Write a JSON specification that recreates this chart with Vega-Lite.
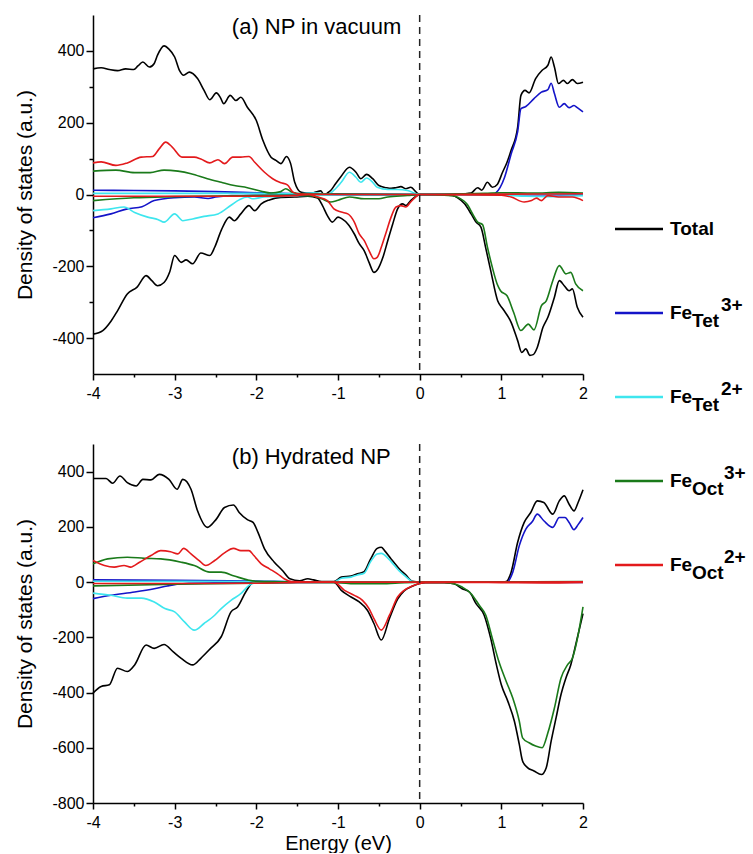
{
"$schema":"https://vega.github.io/schema/vega-lite/v6.json",
"padding":{"left":14,"top":14,"right":0,"bottom":0},
"background":"white",
"config":{"view":{"stroke":null},"font":"Liberation Sans",
"axis":{"domainColor":"black","domainWidth":1.5,"tickColor":"black","tickWidth":1.5,"labelColor":"black","labelFont":"Liberation Sans","labelFontSize":16,"titleFont":"Liberation Sans","titleFontSize":21,"titleFontWeight":"normal","titleColor":"black","grid":false,"labelFlush":false,"labelOverlap":false}},
"datasets":{
"a":[
{"series":"Total","spin":"up","E":-4.0,"dos":350},{"series":"Total","spin":"up","E":-3.9,"dos":353},{"series":"Total","spin":"up","E":-3.8,"dos":348},{"series":"Total","spin":"up","E":-3.7,"dos":345},{"series":"Total","spin":"up","E":-3.6,"dos":350},{"series":"Total","spin":"up","E":-3.5,"dos":348},{"series":"Total","spin":"up","E":-3.45,"dos":358},{"series":"Total","spin":"up","E":-3.39,"dos":369},{"series":"Total","spin":"up","E":-3.31,"dos":355},{"series":"Total","spin":"up","E":-3.25,"dos":365},{"series":"Total","spin":"up","E":-3.21,"dos":388},{"series":"Total","spin":"up","E":-3.13,"dos":414},{"series":"Total","spin":"up","E":-3.07,"dos":405},{"series":"Total","spin":"up","E":-3.0,"dos":383},{"series":"Total","spin":"up","E":-2.94,"dos":345},{"series":"Total","spin":"up","E":-2.89,"dos":332},{"series":"Total","spin":"up","E":-2.82,"dos":341},{"series":"Total","spin":"up","E":-2.72,"dos":323},{"series":"Total","spin":"up","E":-2.64,"dos":290},{"series":"Total","spin":"up","E":-2.57,"dos":264},{"series":"Total","spin":"up","E":-2.49,"dos":283},{"series":"Total","spin":"up","E":-2.44,"dos":270},{"series":"Total","spin":"up","E":-2.4,"dos":253},{"series":"Total","spin":"up","E":-2.32,"dos":276},{"series":"Total","spin":"up","E":-2.25,"dos":262},{"series":"Total","spin":"up","E":-2.19,"dos":271},{"series":"Total","spin":"up","E":-2.11,"dos":243},{"series":"Total","spin":"up","E":-2.0,"dos":206},{"series":"Total","spin":"up","E":-1.92,"dos":151},{"series":"Total","spin":"up","E":-1.82,"dos":104},{"series":"Total","spin":"up","E":-1.76,"dos":95},{"series":"Total","spin":"up","E":-1.7,"dos":86},{"series":"Total","spin":"up","E":-1.63,"dos":106},{"series":"Total","spin":"up","E":-1.58,"dos":86},{"series":"Total","spin":"up","E":-1.53,"dos":34},{"series":"Total","spin":"up","E":-1.45,"dos":6},{"series":"Total","spin":"up","E":-1.38,"dos":4},{"series":"Total","spin":"up","E":-1.3,"dos":5},{"series":"Total","spin":"up","E":-1.21,"dos":10},{"series":"Total","spin":"up","E":-1.17,"dos":-2},{"series":"Total","spin":"up","E":-1.13,"dos":4},{"series":"Total","spin":"up","E":-1.09,"dos":11},{"series":"Total","spin":"up","E":-1.03,"dos":30},{"series":"Total","spin":"up","E":-0.97,"dos":48},{"series":"Total","spin":"up","E":-0.86,"dos":76},{"series":"Total","spin":"up","E":-0.78,"dos":62},{"series":"Total","spin":"up","E":-0.72,"dos":44},{"series":"Total","spin":"up","E":-0.65,"dos":56},{"series":"Total","spin":"up","E":-0.575,"dos":44},{"series":"Total","spin":"up","E":-0.5,"dos":25},{"series":"Total","spin":"up","E":-0.41,"dos":19},{"series":"Total","spin":"up","E":-0.35,"dos":17},{"series":"Total","spin":"up","E":-0.29,"dos":19},{"series":"Total","spin":"up","E":-0.23,"dos":22},{"series":"Total","spin":"up","E":-0.17,"dos":16},{"series":"Total","spin":"up","E":-0.11,"dos":20},{"series":"Total","spin":"up","E":-0.03,"dos":4},{"series":"Total","spin":"up","E":0,"dos":0},{"series":"Total","spin":"up","E":0.3,"dos":0},{"series":"Total","spin":"up","E":0.55,"dos":2},{"series":"Total","spin":"up","E":0.63,"dos":4},{"series":"Total","spin":"up","E":0.71,"dos":19},{"series":"Total","spin":"up","E":0.76,"dos":12},{"series":"Total","spin":"up","E":0.83,"dos":34},{"series":"Total","spin":"up","E":0.89,"dos":20},{"series":"Total","spin":"up","E":0.95,"dos":28},{"series":"Total","spin":"up","E":1.015,"dos":62},{"series":"Total","spin":"up","E":1.07,"dos":90},{"series":"Total","spin":"up","E":1.12,"dos":123},{"series":"Total","spin":"up","E":1.2,"dos":188},{"series":"Total","spin":"up","E":1.24,"dos":276},{"series":"Total","spin":"up","E":1.29,"dos":290},{"series":"Total","spin":"up","E":1.34,"dos":283},{"series":"Total","spin":"up","E":1.42,"dos":323},{"series":"Total","spin":"up","E":1.5,"dos":346},{"series":"Total","spin":"up","E":1.57,"dos":360},{"series":"Total","spin":"up","E":1.61,"dos":383},{"series":"Total","spin":"up","E":1.65,"dos":355},{"series":"Total","spin":"up","E":1.7,"dos":309},{"series":"Total","spin":"up","E":1.76,"dos":318},{"series":"Total","spin":"up","E":1.81,"dos":309},{"series":"Total","spin":"up","E":1.87,"dos":320},{"series":"Total","spin":"up","E":1.93,"dos":309},{"series":"Total","spin":"up","E":2.0,"dos":313},
{"series":"Total","spin":"down","E":-4.0,"dos":-389},{"series":"Total","spin":"down","E":-3.88,"dos":-379},{"series":"Total","spin":"down","E":-3.78,"dos":-353},{"series":"Total","spin":"down","E":-3.7,"dos":-324},{"series":"Total","spin":"down","E":-3.58,"dos":-277},{"series":"Total","spin":"down","E":-3.46,"dos":-258},{"series":"Total","spin":"down","E":-3.35,"dos":-226},{"series":"Total","spin":"down","E":-3.28,"dos":-240},{"series":"Total","spin":"down","E":-3.21,"dos":-254},{"series":"Total","spin":"down","E":-3.13,"dos":-245},{"series":"Total","spin":"down","E":-3.06,"dos":-215},{"series":"Total","spin":"down","E":-3.0,"dos":-170},{"series":"Total","spin":"down","E":-2.92,"dos":-189},{"series":"Total","spin":"down","E":-2.86,"dos":-182},{"series":"Total","spin":"down","E":-2.78,"dos":-193},{"series":"Total","spin":"down","E":-2.68,"dos":-163},{"series":"Total","spin":"down","E":-2.57,"dos":-170},{"series":"Total","spin":"down","E":-2.51,"dos":-147},{"series":"Total","spin":"down","E":-2.43,"dos":-100},{"series":"Total","spin":"down","E":-2.33,"dos":-63},{"series":"Total","spin":"down","E":-2.27,"dos":-73},{"series":"Total","spin":"down","E":-2.19,"dos":-54},{"series":"Total","spin":"down","E":-2.09,"dos":-31},{"series":"Total","spin":"down","E":-2.02,"dos":-45},{"series":"Total","spin":"down","E":-1.94,"dos":-26},{"series":"Total","spin":"down","E":-1.84,"dos":-15},{"series":"Total","spin":"down","E":-1.7,"dos":-8},{"series":"Total","spin":"down","E":-1.53,"dos":-7},{"series":"Total","spin":"down","E":-1.37,"dos":-5},{"series":"Total","spin":"down","E":-1.25,"dos":-10},{"series":"Total","spin":"down","E":-1.19,"dos":-31},{"series":"Total","spin":"down","E":-1.13,"dos":-59},{"series":"Total","spin":"down","E":-1.07,"dos":-77},{"series":"Total","spin":"down","E":-1.0,"dos":-63},{"series":"Total","spin":"down","E":-0.95,"dos":-68},{"series":"Total","spin":"down","E":-0.88,"dos":-82},{"series":"Total","spin":"down","E":-0.8,"dos":-110},{"series":"Total","spin":"down","E":-0.74,"dos":-137},{"series":"Total","spin":"down","E":-0.68,"dos":-156},{"series":"Total","spin":"down","E":-0.62,"dos":-189},{"series":"Total","spin":"down","E":-0.56,"dos":-217},{"series":"Total","spin":"down","E":-0.51,"dos":-207},{"series":"Total","spin":"down","E":-0.45,"dos":-175},{"series":"Total","spin":"down","E":-0.39,"dos":-128},{"series":"Total","spin":"down","E":-0.33,"dos":-82},{"series":"Total","spin":"down","E":-0.27,"dos":-40},{"series":"Total","spin":"down","E":-0.21,"dos":-26},{"series":"Total","spin":"down","E":-0.17,"dos":-31},{"series":"Total","spin":"down","E":-0.11,"dos":-17},{"series":"Total","spin":"down","E":-0.03,"dos":-3},{"series":"Total","spin":"down","E":0,"dos":0},{"series":"Total","spin":"down","E":0.3,"dos":-1},{"series":"Total","spin":"down","E":0.4,"dos":-3},{"series":"Total","spin":"down","E":0.47,"dos":-10},{"series":"Total","spin":"down","E":0.55,"dos":-26},{"series":"Total","spin":"down","E":0.63,"dos":-54},{"series":"Total","spin":"down","E":0.69,"dos":-77},{"series":"Total","spin":"down","E":0.75,"dos":-91},{"series":"Total","spin":"down","E":0.81,"dos":-150},{"series":"Total","spin":"down","E":0.87,"dos":-212},{"series":"Total","spin":"down","E":0.955,"dos":-296},{"series":"Total","spin":"down","E":1.02,"dos":-319},{"series":"Total","spin":"down","E":1.12,"dos":-356},{"series":"Total","spin":"down","E":1.2,"dos":-407},{"series":"Total","spin":"down","E":1.25,"dos":-440},{"series":"Total","spin":"down","E":1.3,"dos":-430},{"series":"Total","spin":"down","E":1.35,"dos":-448},{"series":"Total","spin":"down","E":1.39,"dos":-446},{"series":"Total","spin":"down","E":1.44,"dos":-426},{"series":"Total","spin":"down","E":1.51,"dos":-370},{"series":"Total","spin":"down","E":1.57,"dos":-342},{"series":"Total","spin":"down","E":1.65,"dos":-286},{"series":"Total","spin":"down","E":1.71,"dos":-240},{"series":"Total","spin":"down","E":1.77,"dos":-254},{"series":"Total","spin":"down","E":1.83,"dos":-268},{"series":"Total","spin":"down","E":1.87,"dos":-263},{"series":"Total","spin":"down","E":1.93,"dos":-314},{"series":"Total","spin":"down","E":2.0,"dos":-342},
{"series":"FeTet3+","spin":"up","E":-4,"dos":12},{"series":"FeTet3+","spin":"up","E":-3.5,"dos":11},{"series":"FeTet3+","spin":"up","E":-3,"dos":10},{"series":"FeTet3+","spin":"up","E":-2.5,"dos":8},{"series":"FeTet3+","spin":"up","E":-2,"dos":5},{"series":"FeTet3+","spin":"up","E":-1.5,"dos":2},{"series":"FeTet3+","spin":"up","E":-1,"dos":1},{"series":"FeTet3+","spin":"up","E":0,"dos":0},{"series":"FeTet3+","spin":"up","E":0.9,"dos":1},{"series":"FeTet3+","spin":"up","E":0.93,"dos":4},{"series":"FeTet3+","spin":"up","E":1.04,"dos":48},{"series":"FeTet3+","spin":"up","E":1.12,"dos":113},{"series":"FeTet3+","spin":"up","E":1.2,"dos":175},{"series":"FeTet3+","spin":"up","E":1.24,"dos":239},{"series":"FeTet3+","spin":"up","E":1.3,"dos":245},{"series":"FeTet3+","spin":"up","E":1.4,"dos":267},{"series":"FeTet3+","spin":"up","E":1.49,"dos":285},{"series":"FeTet3+","spin":"up","E":1.57,"dos":292},{"series":"FeTet3+","spin":"up","E":1.61,"dos":310},{"series":"FeTet3+","spin":"up","E":1.65,"dos":281},{"series":"FeTet3+","spin":"up","E":1.71,"dos":243},{"series":"FeTet3+","spin":"up","E":1.77,"dos":253},{"series":"FeTet3+","spin":"up","E":1.83,"dos":242},{"series":"FeTet3+","spin":"up","E":1.89,"dos":248},{"series":"FeTet3+","spin":"up","E":1.93,"dos":242},{"series":"FeTet3+","spin":"up","E":2.0,"dos":230},
{"series":"FeTet3+","spin":"down","E":-4,"dos":-65},{"series":"FeTet3+","spin":"down","E":-3.78,"dos":-54},{"series":"FeTet3+","spin":"down","E":-3.58,"dos":-40},{"series":"FeTet3+","spin":"down","E":-3.4,"dos":-34},{"series":"FeTet3+","spin":"down","E":-3.25,"dos":-17},{"series":"FeTet3+","spin":"down","E":-3.0,"dos":-9},{"series":"FeTet3+","spin":"down","E":-2.76,"dos":-7},{"series":"FeTet3+","spin":"down","E":-2.59,"dos":-11},{"series":"FeTet3+","spin":"down","E":-2.5,"dos":-7},{"series":"FeTet3+","spin":"down","E":-2.3,"dos":-3},{"series":"FeTet3+","spin":"down","E":-2,"dos":-2},{"series":"FeTet3+","spin":"down","E":-1,"dos":-1},{"series":"FeTet3+","spin":"down","E":0,"dos":0},{"series":"FeTet3+","spin":"down","E":2,"dos":-1},
{"series":"FeTet2+","spin":"up","E":-4,"dos":3},{"series":"FeTet2+","spin":"up","E":-2,"dos":3},{"series":"FeTet2+","spin":"up","E":-1.5,"dos":2},{"series":"FeTet2+","spin":"up","E":-1.3,"dos":5},{"series":"FeTet2+","spin":"up","E":-1.2,"dos":3},{"series":"FeTet2+","spin":"up","E":-1.13,"dos":0},{"series":"FeTet2+","spin":"up","E":-1.05,"dos":12},{"series":"FeTet2+","spin":"up","E":-0.96,"dos":34},{"series":"FeTet2+","spin":"up","E":-0.86,"dos":62},{"series":"FeTet2+","spin":"up","E":-0.78,"dos":48},{"series":"FeTet2+","spin":"up","E":-0.72,"dos":34},{"series":"FeTet2+","spin":"up","E":-0.65,"dos":46},{"series":"FeTet2+","spin":"up","E":-0.575,"dos":34},{"series":"FeTet2+","spin":"up","E":-0.52,"dos":20},{"series":"FeTet2+","spin":"up","E":-0.39,"dos":14},{"series":"FeTet2+","spin":"up","E":-0.27,"dos":14},{"series":"FeTet2+","spin":"up","E":-0.15,"dos":11},{"series":"FeTet2+","spin":"up","E":-0.05,"dos":3},{"series":"FeTet2+","spin":"up","E":0,"dos":0},{"series":"FeTet2+","spin":"up","E":1,"dos":1},{"series":"FeTet2+","spin":"up","E":2,"dos":2},
{"series":"FeTet2+","spin":"down","E":-4,"dos":-45},{"series":"FeTet2+","spin":"down","E":-3.78,"dos":-40},{"series":"FeTet2+","spin":"down","E":-3.62,"dos":-35},{"series":"FeTet2+","spin":"down","E":-3.49,"dos":-50},{"series":"FeTet2+","spin":"down","E":-3.33,"dos":-63},{"series":"FeTet2+","spin":"down","E":-3.2,"dos":-70},{"series":"FeTet2+","spin":"down","E":-3.13,"dos":-77},{"series":"FeTet2+","spin":"down","E":-3.0,"dos":-54},{"series":"FeTet2+","spin":"down","E":-2.9,"dos":-73},{"series":"FeTet2+","spin":"down","E":-2.78,"dos":-68},{"series":"FeTet2+","spin":"down","E":-2.64,"dos":-61},{"series":"FeTet2+","spin":"down","E":-2.47,"dos":-54},{"series":"FeTet2+","spin":"down","E":-2.31,"dos":-30},{"series":"FeTet2+","spin":"down","E":-2.21,"dos":-15},{"series":"FeTet2+","spin":"down","E":-2.11,"dos":-7},{"series":"FeTet2+","spin":"down","E":-2.05,"dos":-12},{"series":"FeTet2+","spin":"down","E":-1.9,"dos":-7},{"series":"FeTet2+","spin":"down","E":-1.77,"dos":-6},{"series":"FeTet2+","spin":"down","E":-1.5,"dos":-3},{"series":"FeTet2+","spin":"down","E":-1,"dos":-1},{"series":"FeTet2+","spin":"down","E":0,"dos":0},{"series":"FeTet2+","spin":"down","E":1.0,"dos":-1},{"series":"FeTet2+","spin":"down","E":1.3,"dos":-5},{"series":"FeTet2+","spin":"down","E":1.6,"dos":-6},{"series":"FeTet2+","spin":"down","E":1.9,"dos":-4},{"series":"FeTet2+","spin":"down","E":2.0,"dos":-3},
{"series":"FeOct3+","spin":"up","E":-4,"dos":65},{"series":"FeOct3+","spin":"up","E":-3.72,"dos":68},{"series":"FeOct3+","spin":"up","E":-3.49,"dos":61},{"series":"FeOct3+","spin":"up","E":-3.3,"dos":61},{"series":"FeOct3+","spin":"up","E":-3.13,"dos":68},{"series":"FeOct3+","spin":"up","E":-2.96,"dos":65},{"series":"FeOct3+","spin":"up","E":-2.8,"dos":58},{"series":"FeOct3+","spin":"up","E":-2.6,"dos":44},{"series":"FeOct3+","spin":"up","E":-2.43,"dos":34},{"series":"FeOct3+","spin":"up","E":-2.27,"dos":25},{"series":"FeOct3+","spin":"up","E":-2.11,"dos":19},{"series":"FeOct3+","spin":"up","E":-1.94,"dos":9},{"series":"FeOct3+","spin":"up","E":-1.82,"dos":4},{"series":"FeOct3+","spin":"up","E":-1.7,"dos":8},{"series":"FeOct3+","spin":"up","E":-1.64,"dos":16},{"series":"FeOct3+","spin":"up","E":-1.56,"dos":6},{"series":"FeOct3+","spin":"up","E":-1.45,"dos":2},{"series":"FeOct3+","spin":"up","E":-1,"dos":1},{"series":"FeOct3+","spin":"up","E":0,"dos":0},{"series":"FeOct3+","spin":"up","E":0.8,"dos":3},{"series":"FeOct3+","spin":"up","E":1.0,"dos":5},{"series":"FeOct3+","spin":"up","E":1.4,"dos":4},{"series":"FeOct3+","spin":"up","E":1.7,"dos":6},{"series":"FeOct3+","spin":"up","E":2.0,"dos":4},
{"series":"FeOct3+","spin":"down","E":-4,"dos":-17},{"series":"FeOct3+","spin":"down","E":-3.5,"dos":-9},{"series":"FeOct3+","spin":"down","E":-3.0,"dos":-6},{"series":"FeOct3+","spin":"down","E":-2.5,"dos":-4},{"series":"FeOct3+","spin":"down","E":-2,"dos":-3},{"series":"FeOct3+","spin":"down","E":-1.5,"dos":-2},{"series":"FeOct3+","spin":"down","E":-1.33,"dos":-3},{"series":"FeOct3+","spin":"down","E":-1.2,"dos":-12},{"series":"FeOct3+","spin":"down","E":-1.09,"dos":-21},{"series":"FeOct3+","spin":"down","E":-1.0,"dos":-16},{"series":"FeOct3+","spin":"down","E":-0.86,"dos":-7},{"series":"FeOct3+","spin":"down","E":-0.68,"dos":-12},{"series":"FeOct3+","spin":"down","E":-0.5,"dos":-12},{"series":"FeOct3+","spin":"down","E":-0.39,"dos":-7},{"series":"FeOct3+","spin":"down","E":-0.15,"dos":-3},{"series":"FeOct3+","spin":"down","E":0,"dos":0},{"series":"FeOct3+","spin":"down","E":0.4,"dos":-3},{"series":"FeOct3+","spin":"down","E":0.47,"dos":-8},{"series":"FeOct3+","spin":"down","E":0.59,"dos":-30},{"series":"FeOct3+","spin":"down","E":0.65,"dos":-55},{"series":"FeOct3+","spin":"down","E":0.71,"dos":-77},{"series":"FeOct3+","spin":"down","E":0.77,"dos":-84},{"series":"FeOct3+","spin":"down","E":0.83,"dos":-147},{"series":"FeOct3+","spin":"down","E":0.89,"dos":-203},{"series":"FeOct3+","spin":"down","E":0.95,"dos":-250},{"series":"FeOct3+","spin":"down","E":0.99,"dos":-268},{"series":"FeOct3+","spin":"down","E":1.07,"dos":-282},{"series":"FeOct3+","spin":"down","E":1.15,"dos":-328},{"series":"FeOct3+","spin":"down","E":1.24,"dos":-379},{"series":"FeOct3+","spin":"down","E":1.33,"dos":-361},{"series":"FeOct3+","spin":"down","E":1.4,"dos":-377},{"series":"FeOct3+","spin":"down","E":1.49,"dos":-310},{"series":"FeOct3+","spin":"down","E":1.55,"dos":-296},{"series":"FeOct3+","spin":"down","E":1.63,"dos":-240},{"series":"FeOct3+","spin":"down","E":1.71,"dos":-198},{"series":"FeOct3+","spin":"down","E":1.79,"dos":-221},{"series":"FeOct3+","spin":"down","E":1.85,"dos":-217},{"series":"FeOct3+","spin":"down","E":1.91,"dos":-249},{"series":"FeOct3+","spin":"down","E":2.0,"dos":-268},
{"series":"FeOct2+","spin":"up","E":-4,"dos":88},{"series":"FeOct2+","spin":"up","E":-3.9,"dos":91},{"series":"FeOct2+","spin":"up","E":-3.72,"dos":81},{"series":"FeOct2+","spin":"up","E":-3.58,"dos":88},{"series":"FeOct2+","spin":"up","E":-3.41,"dos":104},{"series":"FeOct2+","spin":"up","E":-3.27,"dos":106},{"series":"FeOct2+","spin":"up","E":-3.19,"dos":127},{"series":"FeOct2+","spin":"up","E":-3.11,"dos":146},{"series":"FeOct2+","spin":"up","E":-3.03,"dos":132},{"series":"FeOct2+","spin":"up","E":-2.91,"dos":104},{"series":"FeOct2+","spin":"up","E":-2.76,"dos":104},{"series":"FeOct2+","spin":"up","E":-2.68,"dos":99},{"series":"FeOct2+","spin":"up","E":-2.57,"dos":88},{"series":"FeOct2+","spin":"up","E":-2.47,"dos":97},{"series":"FeOct2+","spin":"up","E":-2.39,"dos":86},{"series":"FeOct2+","spin":"up","E":-2.29,"dos":104},{"series":"FeOct2+","spin":"up","E":-2.19,"dos":104},{"series":"FeOct2+","spin":"up","E":-2.09,"dos":106},{"series":"FeOct2+","spin":"up","E":-2.02,"dos":90},{"series":"FeOct2+","spin":"up","E":-1.9,"dos":62},{"series":"FeOct2+","spin":"up","E":-1.8,"dos":44},{"series":"FeOct2+","spin":"up","E":-1.7,"dos":33},{"series":"FeOct2+","spin":"up","E":-1.62,"dos":27},{"series":"FeOct2+","spin":"up","E":-1.55,"dos":6},{"series":"FeOct2+","spin":"up","E":-1.46,"dos":1},{"series":"FeOct2+","spin":"up","E":-1,"dos":0},{"series":"FeOct2+","spin":"up","E":0,"dos":0},{"series":"FeOct2+","spin":"up","E":2,"dos":2},
{"series":"FeOct2+","spin":"down","E":-4,"dos":-5},{"series":"FeOct2+","spin":"down","E":-3,"dos":-5},{"series":"FeOct2+","spin":"down","E":-2,"dos":-5},{"series":"FeOct2+","spin":"down","E":-1.5,"dos":-3},{"series":"FeOct2+","spin":"down","E":-1.36,"dos":0},{"series":"FeOct2+","spin":"down","E":-1.25,"dos":-7},{"series":"FeOct2+","spin":"down","E":-1.13,"dos":-17},{"series":"FeOct2+","spin":"down","E":-1.05,"dos":-40},{"series":"FeOct2+","spin":"down","E":-0.96,"dos":-49},{"series":"FeOct2+","spin":"down","E":-0.88,"dos":-54},{"series":"FeOct2+","spin":"down","E":-0.8,"dos":-77},{"series":"FeOct2+","spin":"down","E":-0.74,"dos":-110},{"series":"FeOct2+","spin":"down","E":-0.68,"dos":-128},{"series":"FeOct2+","spin":"down","E":-0.62,"dos":-156},{"series":"FeOct2+","spin":"down","E":-0.56,"dos":-179},{"series":"FeOct2+","spin":"down","E":-0.52,"dos":-175},{"series":"FeOct2+","spin":"down","E":-0.47,"dos":-147},{"series":"FeOct2+","spin":"down","E":-0.41,"dos":-105},{"series":"FeOct2+","spin":"down","E":-0.35,"dos":-63},{"series":"FeOct2+","spin":"down","E":-0.29,"dos":-35},{"series":"FeOct2+","spin":"down","E":-0.23,"dos":-31},{"series":"FeOct2+","spin":"down","E":-0.17,"dos":-35},{"series":"FeOct2+","spin":"down","E":-0.11,"dos":-21},{"series":"FeOct2+","spin":"down","E":-0.05,"dos":-7},{"series":"FeOct2+","spin":"down","E":0,"dos":0},{"series":"FeOct2+","spin":"down","E":1.0,"dos":-2},{"series":"FeOct2+","spin":"down","E":1.12,"dos":-7},{"series":"FeOct2+","spin":"down","E":1.28,"dos":-21},{"series":"FeOct2+","spin":"down","E":1.37,"dos":-17},{"series":"FeOct2+","spin":"down","E":1.43,"dos":-10},{"series":"FeOct2+","spin":"down","E":1.49,"dos":-17},{"series":"FeOct2+","spin":"down","E":1.57,"dos":-3},{"series":"FeOct2+","spin":"down","E":1.7,"dos":-7},{"series":"FeOct2+","spin":"down","E":1.87,"dos":-7},{"series":"FeOct2+","spin":"down","E":2.0,"dos":-17}
],
"b":[
{"series":"Total","spin":"up","E":-4.0,"dos":375},{"series":"Total","spin":"up","E":-3.84,"dos":375},{"series":"Total","spin":"up","E":-3.76,"dos":358},{"series":"Total","spin":"up","E":-3.67,"dos":384},{"series":"Total","spin":"up","E":-3.58,"dos":360},{"series":"Total","spin":"up","E":-3.47,"dos":348},{"series":"Total","spin":"up","E":-3.39,"dos":372},{"series":"Total","spin":"up","E":-3.29,"dos":370},{"series":"Total","spin":"up","E":-3.19,"dos":390},{"series":"Total","spin":"up","E":-3.07,"dos":372},{"series":"Total","spin":"up","E":-2.97,"dos":336},{"series":"Total","spin":"up","E":-2.9,"dos":372},{"series":"Total","spin":"up","E":-2.8,"dos":336},{"series":"Total","spin":"up","E":-2.72,"dos":258},{"series":"Total","spin":"up","E":-2.6,"dos":198},{"series":"Total","spin":"up","E":-2.49,"dos":228},{"series":"Total","spin":"up","E":-2.39,"dos":270},{"series":"Total","spin":"up","E":-2.28,"dos":279},{"series":"Total","spin":"up","E":-2.21,"dos":252},{"series":"Total","spin":"up","E":-2.11,"dos":226},{"series":"Total","spin":"up","E":-2.04,"dos":216},{"series":"Total","spin":"up","E":-1.98,"dos":180},{"series":"Total","spin":"up","E":-1.9,"dos":120},{"series":"Total","spin":"up","E":-1.78,"dos":72},{"series":"Total","spin":"up","E":-1.68,"dos":42},{"series":"Total","spin":"up","E":-1.59,"dos":12},{"series":"Total","spin":"up","E":-1.47,"dos":5},{"series":"Total","spin":"up","E":-1.37,"dos":12},{"series":"Total","spin":"up","E":-1.3,"dos":8},{"series":"Total","spin":"up","E":-1.2,"dos":2},{"series":"Total","spin":"up","E":-1.05,"dos":2},{"series":"Total","spin":"up","E":-0.96,"dos":18},{"series":"Total","spin":"up","E":-0.84,"dos":22},{"series":"Total","spin":"up","E":-0.76,"dos":30},{"series":"Total","spin":"up","E":-0.68,"dos":38},{"series":"Total","spin":"up","E":-0.6,"dos":84},{"series":"Total","spin":"up","E":-0.52,"dos":122},{"series":"Total","spin":"up","E":-0.47,"dos":126},{"series":"Total","spin":"up","E":-0.43,"dos":114},{"series":"Total","spin":"up","E":-0.35,"dos":84},{"series":"Total","spin":"up","E":-0.25,"dos":48},{"series":"Total","spin":"up","E":-0.17,"dos":26},{"series":"Total","spin":"up","E":-0.09,"dos":3},{"series":"Total","spin":"up","E":0,"dos":0},{"series":"Total","spin":"up","E":1.0,"dos":0},{"series":"Total","spin":"up","E":1.06,"dos":2},{"series":"Total","spin":"up","E":1.12,"dos":36},{"series":"Total","spin":"up","E":1.2,"dos":144},{"series":"Total","spin":"up","E":1.28,"dos":216},{"series":"Total","spin":"up","E":1.36,"dos":252},{"series":"Total","spin":"up","E":1.44,"dos":294},{"series":"Total","spin":"up","E":1.52,"dos":288},{"series":"Total","spin":"up","E":1.63,"dos":246},{"series":"Total","spin":"up","E":1.71,"dos":294},{"series":"Total","spin":"up","E":1.77,"dos":312},{"series":"Total","spin":"up","E":1.83,"dos":282},{"series":"Total","spin":"up","E":1.89,"dos":258},{"series":"Total","spin":"up","E":1.94,"dos":288},{"series":"Total","spin":"up","E":2.0,"dos":334},
{"series":"Total","spin":"down","E":-4.0,"dos":-402},{"series":"Total","spin":"down","E":-3.9,"dos":-378},{"series":"Total","spin":"down","E":-3.8,"dos":-372},{"series":"Total","spin":"down","E":-3.7,"dos":-312},{"series":"Total","spin":"down","E":-3.58,"dos":-324},{"series":"Total","spin":"down","E":-3.49,"dos":-300},{"series":"Total","spin":"down","E":-3.35,"dos":-228},{"series":"Total","spin":"down","E":-3.25,"dos":-240},{"series":"Total","spin":"down","E":-3.13,"dos":-226},{"series":"Total","spin":"down","E":-3.02,"dos":-252},{"series":"Total","spin":"down","E":-2.92,"dos":-276},{"series":"Total","spin":"down","E":-2.78,"dos":-300},{"series":"Total","spin":"down","E":-2.68,"dos":-276},{"series":"Total","spin":"down","E":-2.56,"dos":-240},{"series":"Total","spin":"down","E":-2.43,"dos":-198},{"series":"Total","spin":"down","E":-2.31,"dos":-108},{"series":"Total","spin":"down","E":-2.23,"dos":-90},{"series":"Total","spin":"down","E":-2.13,"dos":-36},{"series":"Total","spin":"down","E":-2.04,"dos":-2},{"series":"Total","spin":"down","E":-1.5,"dos":0},{"series":"Total","spin":"down","E":-1.05,"dos":0},{"series":"Total","spin":"down","E":-0.96,"dos":-30},{"series":"Total","spin":"down","E":-0.84,"dos":-54},{"series":"Total","spin":"down","E":-0.74,"dos":-72},{"series":"Total","spin":"down","E":-0.64,"dos":-102},{"series":"Total","spin":"down","E":-0.56,"dos":-150},{"series":"Total","spin":"down","E":-0.47,"dos":-210},{"series":"Total","spin":"down","E":-0.37,"dos":-132},{"series":"Total","spin":"down","E":-0.27,"dos":-62},{"series":"Total","spin":"down","E":-0.19,"dos":-32},{"series":"Total","spin":"down","E":-0.09,"dos":-15},{"series":"Total","spin":"down","E":-0.01,"dos":-6},{"series":"Total","spin":"down","E":0.07,"dos":-2},{"series":"Total","spin":"down","E":0.3,"dos":-2},{"series":"Total","spin":"down","E":0.42,"dos":-6},{"series":"Total","spin":"down","E":0.52,"dos":-24},{"series":"Total","spin":"down","E":0.61,"dos":-36},{"series":"Total","spin":"down","E":0.69,"dos":-78},{"series":"Total","spin":"down","E":0.79,"dos":-120},{"series":"Total","spin":"down","E":0.87,"dos":-204},{"series":"Total","spin":"down","E":0.94,"dos":-300},{"series":"Total","spin":"down","E":1.0,"dos":-372},{"series":"Total","spin":"down","E":1.08,"dos":-432},{"series":"Total","spin":"down","E":1.16,"dos":-504},{"series":"Total","spin":"down","E":1.22,"dos":-588},{"series":"Total","spin":"down","E":1.26,"dos":-648},{"series":"Total","spin":"down","E":1.32,"dos":-672},{"series":"Total","spin":"down","E":1.4,"dos":-684},{"series":"Total","spin":"down","E":1.49,"dos":-697},{"series":"Total","spin":"down","E":1.55,"dos":-672},{"series":"Total","spin":"down","E":1.61,"dos":-576},{"series":"Total","spin":"down","E":1.67,"dos":-492},{"series":"Total","spin":"down","E":1.73,"dos":-408},{"series":"Total","spin":"down","E":1.79,"dos":-348},{"series":"Total","spin":"down","E":1.85,"dos":-300},{"series":"Total","spin":"down","E":1.91,"dos":-228},{"series":"Total","spin":"down","E":2.0,"dos":-114},
{"series":"FeTet3+","spin":"up","E":-4,"dos":8},{"series":"FeTet3+","spin":"up","E":-3,"dos":6},{"series":"FeTet3+","spin":"up","E":-2,"dos":4},{"series":"FeTet3+","spin":"up","E":-1.5,"dos":1},{"series":"FeTet3+","spin":"up","E":0,"dos":0},{"series":"FeTet3+","spin":"up","E":1.07,"dos":0},{"series":"FeTet3+","spin":"up","E":1.14,"dos":36},{"series":"FeTet3+","spin":"up","E":1.22,"dos":132},{"series":"FeTet3+","spin":"up","E":1.3,"dos":192},{"series":"FeTet3+","spin":"up","E":1.38,"dos":219},{"series":"FeTet3+","spin":"up","E":1.44,"dos":246},{"series":"FeTet3+","spin":"up","E":1.52,"dos":222},{"series":"FeTet3+","spin":"up","E":1.63,"dos":198},{"series":"FeTet3+","spin":"up","E":1.71,"dos":234},{"series":"FeTet3+","spin":"up","E":1.78,"dos":234},{"series":"FeTet3+","spin":"up","E":1.83,"dos":216},{"series":"FeTet3+","spin":"up","E":1.89,"dos":190},{"series":"FeTet3+","spin":"up","E":1.94,"dos":208},{"series":"FeTet3+","spin":"up","E":2.0,"dos":234},
{"series":"FeTet3+","spin":"down","E":-4,"dos":-60},{"series":"FeTet3+","spin":"down","E":-3.78,"dos":-48},{"series":"FeTet3+","spin":"down","E":-3.49,"dos":-36},{"series":"FeTet3+","spin":"down","E":-3.25,"dos":-24},{"series":"FeTet3+","spin":"down","E":-3.09,"dos":-14},{"series":"FeTet3+","spin":"down","E":-2.9,"dos":-6},{"series":"FeTet3+","spin":"down","E":-2.5,"dos":-3},{"series":"FeTet3+","spin":"down","E":-2,"dos":-2},{"series":"FeTet3+","spin":"down","E":0,"dos":0},{"series":"FeTet3+","spin":"down","E":2,"dos":-1},
{"series":"FeTet2+","spin":"up","E":-4,"dos":3},{"series":"FeTet2+","spin":"up","E":-2,"dos":2},{"series":"FeTet2+","spin":"up","E":-1.5,"dos":1},{"series":"FeTet2+","spin":"up","E":-1.05,"dos":0},{"series":"FeTet2+","spin":"up","E":-0.96,"dos":14},{"series":"FeTet2+","spin":"up","E":-0.84,"dos":18},{"series":"FeTet2+","spin":"up","E":-0.76,"dos":26},{"series":"FeTet2+","spin":"up","E":-0.68,"dos":32},{"series":"FeTet2+","spin":"up","E":-0.6,"dos":74},{"series":"FeTet2+","spin":"up","E":-0.52,"dos":102},{"series":"FeTet2+","spin":"up","E":-0.47,"dos":104},{"series":"FeTet2+","spin":"up","E":-0.43,"dos":98},{"series":"FeTet2+","spin":"up","E":-0.35,"dos":74},{"series":"FeTet2+","spin":"up","E":-0.25,"dos":40},{"series":"FeTet2+","spin":"up","E":-0.17,"dos":20},{"series":"FeTet2+","spin":"up","E":-0.09,"dos":2},{"series":"FeTet2+","spin":"up","E":0,"dos":0},{"series":"FeTet2+","spin":"up","E":2,"dos":0},
{"series":"FeTet2+","spin":"down","E":-4,"dos":-40},{"series":"FeTet2+","spin":"down","E":-3.78,"dos":-48},{"series":"FeTet2+","spin":"down","E":-3.58,"dos":-58},{"series":"FeTet2+","spin":"down","E":-3.41,"dos":-58},{"series":"FeTet2+","spin":"down","E":-3.25,"dos":-72},{"series":"FeTet2+","spin":"down","E":-3.12,"dos":-96},{"series":"FeTet2+","spin":"down","E":-3.0,"dos":-108},{"series":"FeTet2+","spin":"down","E":-2.88,"dos":-144},{"series":"FeTet2+","spin":"down","E":-2.76,"dos":-174},{"series":"FeTet2+","spin":"down","E":-2.64,"dos":-150},{"series":"FeTet2+","spin":"down","E":-2.51,"dos":-120},{"series":"FeTet2+","spin":"down","E":-2.43,"dos":-96},{"series":"FeTet2+","spin":"down","E":-2.31,"dos":-66},{"series":"FeTet2+","spin":"down","E":-2.19,"dos":-42},{"series":"FeTet2+","spin":"down","E":-2.09,"dos":-12},{"series":"FeTet2+","spin":"down","E":-2.02,"dos":-2},{"series":"FeTet2+","spin":"down","E":-1.5,"dos":0},{"series":"FeTet2+","spin":"down","E":0,"dos":0},{"series":"FeTet2+","spin":"down","E":2,"dos":0},
{"series":"FeOct3+","spin":"up","E":-4,"dos":66},{"series":"FeOct3+","spin":"up","E":-3.82,"dos":84},{"series":"FeOct3+","spin":"up","E":-3.58,"dos":90},{"series":"FeOct3+","spin":"up","E":-3.37,"dos":86},{"series":"FeOct3+","spin":"up","E":-3.17,"dos":84},{"series":"FeOct3+","spin":"up","E":-2.92,"dos":72},{"series":"FeOct3+","spin":"up","E":-2.76,"dos":60},{"series":"FeOct3+","spin":"up","E":-2.57,"dos":36},{"series":"FeOct3+","spin":"up","E":-2.43,"dos":36},{"series":"FeOct3+","spin":"up","E":-2.27,"dos":22},{"series":"FeOct3+","spin":"up","E":-2.11,"dos":8},{"series":"FeOct3+","spin":"up","E":-2.0,"dos":3},{"series":"FeOct3+","spin":"up","E":-1.5,"dos":1},{"series":"FeOct3+","spin":"up","E":0,"dos":0},{"series":"FeOct3+","spin":"up","E":2,"dos":2},
{"series":"FeOct3+","spin":"down","E":-4,"dos":-14},{"series":"FeOct3+","spin":"down","E":-3,"dos":-8},{"series":"FeOct3+","spin":"down","E":-2,"dos":-4},{"series":"FeOct3+","spin":"down","E":-1.5,"dos":-1},{"series":"FeOct3+","spin":"down","E":-1.0,"dos":-2},{"series":"FeOct3+","spin":"down","E":-0.8,"dos":-6},{"series":"FeOct3+","spin":"down","E":-0.5,"dos":-6},{"series":"FeOct3+","spin":"down","E":-0.3,"dos":-4},{"series":"FeOct3+","spin":"down","E":0,"dos":0},{"series":"FeOct3+","spin":"down","E":0.3,"dos":-1},{"series":"FeOct3+","spin":"down","E":0.42,"dos":-6},{"series":"FeOct3+","spin":"down","E":0.52,"dos":-18},{"series":"FeOct3+","spin":"down","E":0.63,"dos":-42},{"series":"FeOct3+","spin":"down","E":0.73,"dos":-84},{"series":"FeOct3+","spin":"down","E":0.81,"dos":-120},{"series":"FeOct3+","spin":"down","E":0.89,"dos":-204},{"series":"FeOct3+","spin":"down","E":0.97,"dos":-288},{"series":"FeOct3+","spin":"down","E":1.06,"dos":-360},{"series":"FeOct3+","spin":"down","E":1.14,"dos":-420},{"series":"FeOct3+","spin":"down","E":1.22,"dos":-504},{"series":"FeOct3+","spin":"down","E":1.26,"dos":-564},{"series":"FeOct3+","spin":"down","E":1.34,"dos":-582},{"series":"FeOct3+","spin":"down","E":1.42,"dos":-594},{"series":"FeOct3+","spin":"down","E":1.5,"dos":-600},{"series":"FeOct3+","spin":"down","E":1.57,"dos":-546},{"series":"FeOct3+","spin":"down","E":1.65,"dos":-456},{"series":"FeOct3+","spin":"down","E":1.73,"dos":-348},{"series":"FeOct3+","spin":"down","E":1.81,"dos":-300},{"series":"FeOct3+","spin":"down","E":1.87,"dos":-276},{"series":"FeOct3+","spin":"down","E":1.94,"dos":-192},{"series":"FeOct3+","spin":"down","E":2.0,"dos":-90},
{"series":"FeOct2+","spin":"up","E":-4,"dos":78},{"series":"FeOct2+","spin":"up","E":-3.86,"dos":60},{"series":"FeOct2+","spin":"up","E":-3.74,"dos":54},{"series":"FeOct2+","spin":"up","E":-3.62,"dos":60},{"series":"FeOct2+","spin":"up","E":-3.54,"dos":54},{"series":"FeOct2+","spin":"up","E":-3.43,"dos":72},{"series":"FeOct2+","spin":"up","E":-3.29,"dos":96},{"series":"FeOct2+","spin":"up","E":-3.17,"dos":114},{"series":"FeOct2+","spin":"up","E":-3.05,"dos":110},{"series":"FeOct2+","spin":"up","E":-2.96,"dos":102},{"series":"FeOct2+","spin":"up","E":-2.89,"dos":122},{"series":"FeOct2+","spin":"up","E":-2.8,"dos":102},{"series":"FeOct2+","spin":"up","E":-2.7,"dos":78},{"series":"FeOct2+","spin":"up","E":-2.62,"dos":60},{"series":"FeOct2+","spin":"up","E":-2.51,"dos":78},{"series":"FeOct2+","spin":"up","E":-2.39,"dos":106},{"series":"FeOct2+","spin":"up","E":-2.28,"dos":122},{"series":"FeOct2+","spin":"up","E":-2.19,"dos":114},{"series":"FeOct2+","spin":"up","E":-2.09,"dos":114},{"series":"FeOct2+","spin":"up","E":-2.03,"dos":96},{"series":"FeOct2+","spin":"up","E":-1.94,"dos":66},{"series":"FeOct2+","spin":"up","E":-1.84,"dos":48},{"series":"FeOct2+","spin":"up","E":-1.74,"dos":30},{"series":"FeOct2+","spin":"up","E":-1.66,"dos":12},{"series":"FeOct2+","spin":"up","E":-1.57,"dos":2},{"series":"FeOct2+","spin":"up","E":-1.0,"dos":0},{"series":"FeOct2+","spin":"up","E":0,"dos":0},{"series":"FeOct2+","spin":"up","E":2,"dos":1},
{"series":"FeOct2+","spin":"down","E":-4,"dos":-5},{"series":"FeOct2+","spin":"down","E":-3,"dos":-5},{"series":"FeOct2+","spin":"down","E":-2,"dos":-4},{"series":"FeOct2+","spin":"down","E":-1.5,"dos":-1},{"series":"FeOct2+","spin":"down","E":-1.05,"dos":0},{"series":"FeOct2+","spin":"down","E":-0.92,"dos":-30},{"series":"FeOct2+","spin":"down","E":-0.8,"dos":-48},{"series":"FeOct2+","spin":"down","E":-0.7,"dos":-66},{"series":"FeOct2+","spin":"down","E":-0.62,"dos":-96},{"series":"FeOct2+","spin":"down","E":-0.56,"dos":-132},{"series":"FeOct2+","spin":"down","E":-0.47,"dos":-174},{"series":"FeOct2+","spin":"down","E":-0.37,"dos":-120},{"series":"FeOct2+","spin":"down","E":-0.27,"dos":-54},{"series":"FeOct2+","spin":"down","E":-0.19,"dos":-30},{"series":"FeOct2+","spin":"down","E":-0.09,"dos":-14},{"series":"FeOct2+","spin":"down","E":-0.01,"dos":-6},{"series":"FeOct2+","spin":"down","E":0.07,"dos":-2},{"series":"FeOct2+","spin":"down","E":0.5,"dos":-1},{"series":"FeOct2+","spin":"down","E":1.0,"dos":-2},{"series":"FeOct2+","spin":"down","E":1.5,"dos":-3},{"series":"FeOct2+","spin":"down","E":2,"dos":-1}
],
"legend":[
{"series":"Total","main":"Total","sub":"","sup":""},
{"series":"FeTet3+","main":"Fe","sub":"Tet","sup":"3+"},
{"series":"FeTet2+","main":"Fe","sub":"Tet","sup":"2+"},
{"series":"FeOct3+","main":"Fe","sub":"Oct","sup":"3+"},
{"series":"FeOct2+","main":"Fe","sub":"Oct","sup":"2+"}
]
},
"hconcat":[
{"vconcat":[
{"width":490,"height":359,
"layer":[
{"data":{"name":"a"},"mark":{"type":"line","strokeWidth":1.6,"interpolate":"monotone"},
"encoding":{
"x":{"field":"E","type":"quantitative","scale":{"domain":[-4,2],"nice":false,"zero":false},
"axis":{"title":null,"values":[-4,-3.5,-3,-2.5,-2,-1.5,-1,-0.5,0,0.5,1,1.5,2],"labelExpr":"datum.value % 1 === 0 ? toString(datum.value) : ''","tickSize":{"condition":{"test":"datum.value % 1 !== 0","value":3},"value":6},"labelPadding":5}},
"y":{"field":"dos","type":"quantitative","scale":{"domain":[-500,500],"nice":false},
"axis":{"title":"Density of states (a.u.)","values":[-400,-300,-200,-100,0,100,200,300,400],"labelExpr":"datum.value % 200 === 0 ? toString(datum.value) : ''","tickSize":{"condition":{"test":"datum.value % 200 !== 0","value":4},"value":7},"labelPadding":2,"titlePadding":16}},
"color":{"field":"series","type":"nominal","scale":{"domain":["Total","FeTet3+","FeTet2+","FeOct3+","FeOct2+"],"range":["#000000","#1414c8","#3ee6ee","#1a7a1a","#e31a1c"]},"legend":null},
"detail":{"field":"spin","type":"nominal"}}},
{"data":{"values":[{}]},"mark":{"type":"rule","strokeDash":[7,5],"strokeWidth":1.5,"color":"#222222"},"encoding":{"x":{"datum":0}}},
{"data":{"values":[{"label":"(a) NP in vacuum"}]},"mark":{"type":"text","align":"left","baseline":"middle","fontSize":22,"color":"black"},"encoding":{"x":{"datum":-2.3},"y":{"datum":466},"text":{"field":"label"}}}
]},
{"width":490,"height":359,
"layer":[
{"data":{"name":"b"},"mark":{"type":"line","strokeWidth":1.6,"interpolate":"monotone"},
"encoding":{
"x":{"field":"E","type":"quantitative","scale":{"domain":[-4,2],"nice":false,"zero":false},
"axis":{"title":"Energy (eV)","titleFontSize":20,"titlePadding":3,"values":[-4,-3.5,-3,-2.5,-2,-1.5,-1,-0.5,0,0.5,1,1.5,2],"labelExpr":"datum.value % 1 === 0 ? toString(datum.value) : ''","tickSize":{"condition":{"test":"datum.value % 1 !== 0","value":3},"value":6},"labelPadding":5}},
"y":{"field":"dos","type":"quantitative","scale":{"domain":[-800,500],"nice":false},
"axis":{"title":"Density of states (a.u.)","values":[-800,-700,-600,-500,-400,-300,-200,-100,0,100,200,300,400],"labelExpr":"datum.value % 200 === 0 ? toString(datum.value) : ''","tickSize":{"condition":{"test":"datum.value % 200 !== 0","value":4},"value":7},"labelPadding":2,"titlePadding":16}},
"color":{"field":"series","type":"nominal","legend":null},
"detail":{"field":"spin","type":"nominal"}}},
{"data":{"values":[{}]},"mark":{"type":"rule","strokeDash":[7,5],"strokeWidth":1.5,"color":"#222222"},"encoding":{"x":{"datum":0}}},
{"data":{"values":[{"label":"(b) Hydrated NP"}]},"mark":{"type":"text","align":"left","baseline":"middle","fontSize":22,"color":"black"},"encoding":{"x":{"datum":-2.3},"y":{"datum":454},"text":{"field":"label"}}}
]}
],"spacing":42,"resolve":{"scale":{"x":"independent","y":"independent"}}},
{"width":140,"height":600,"data":{"name":"legend"},
"layer":[
{"mark":{"type":"rule","strokeWidth":2.5},"encoding":{
"y":{"field":"series","type":"nominal","scale":{"type":"point","domain":["Total","FeTet3+","FeTet2+","FeOct3+","FeOct2+"],"range":[214,550],"padding":0},"axis":null},
"x":{"datum":14,"type":"quantitative","scale":{"domain":[0,140],"nice":false,"zero":false},"axis":null},
"x2":{"datum":62},
"color":{"field":"series","type":"nominal","legend":null}}},
{"mark":{"type":"text","align":"left","baseline":"middle","fontSize":19,"fontWeight":"bold","color":"black"},"encoding":{"y":{"field":"series","type":"nominal"},"x":{"datum":69,"type":"quantitative"},"text":{"field":"main"}}},
{"transform":[{"filter":"datum.sub !== ''"}],"mark":{"type":"text","align":"left","baseline":"middle","fontSize":19,"fontWeight":"bold","color":"black","dx":22,"dy":8},"encoding":{"y":{"field":"series","type":"nominal"},"x":{"datum":69,"type":"quantitative"},"text":{"field":"sub"}}},
{"transform":[{"filter":"datum.sub === 'Tet'"}],"mark":{"type":"text","align":"left","baseline":"middle","fontSize":19,"fontWeight":"bold","color":"black","dx":51,"dy":-8},"encoding":{"y":{"field":"series","type":"nominal"},"x":{"datum":69,"type":"quantitative"},"text":{"field":"sup"}}},
{"transform":[{"filter":"datum.sub === 'Oct'"}],"mark":{"type":"text","align":"left","baseline":"middle","fontSize":19,"fontWeight":"bold","color":"black","dx":54,"dy":-8},"encoding":{"y":{"field":"series","type":"nominal"},"x":{"datum":69,"type":"quantitative"},"text":{"field":"sup"}}}
]}
],
"spacing":13,
"resolve":{"scale":{"x":"independent","y":"independent"}}
}
